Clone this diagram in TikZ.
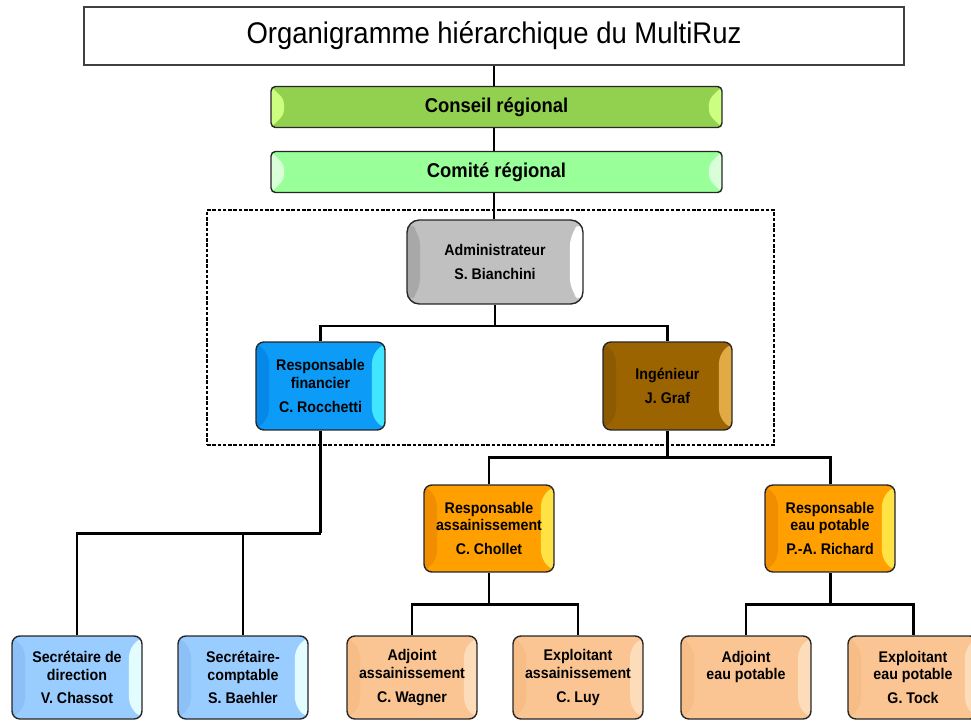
\documentclass[tikz,border=0pt]{standalone}
\usepackage{fontspec}
\setmainfont{Liberation Sans}
\newfontfamily\orgfont[FakeStretch=0.92]{Liberation Sans}
\usepackage{tikz}
\usetikzlibrary{positioning, calc}
\definecolor{conseilfill}{HTML}{92D050}
\definecolor{conseilhi}{HTML}{CCFF80}
\definecolor{comitefill}{HTML}{99FF99}
\definecolor{comitehi}{HTML}{D8FFD8}
\definecolor{adminfill}{HTML}{C0C0C0}
\definecolor{adminlo}{HTML}{A8A8A8}
\definecolor{finfill}{HTML}{0C9CF8}
\definecolor{finlo}{HTML}{0688E8}
\definecolor{finhi}{HTML}{40E6FF}
\definecolor{ingfill}{HTML}{9C6400}
\definecolor{inglo}{HTML}{8C5A00}
\definecolor{inghi}{HTML}{E2AA44}
\definecolor{orfill}{HTML}{FFA000}
\definecolor{orlo}{HTML}{F08E00}
\definecolor{orhi}{HTML}{FFE244}
\definecolor{secfill}{HTML}{99CCFF}
\definecolor{seclo}{HTML}{8DC0F6}
\definecolor{sechi}{HTML}{E2FCFF}
\definecolor{adjfill}{HTML}{FAC592}
\definecolor{adjlo}{HTML}{F6BD86}
\definecolor{adjhi}{HTML}{FDDCBA}

\begin{document}
\begin{tikzpicture}[
    % 1. work in pixels of the original chart
    x=0.02cm, y=-0.02cm,
    % 2. styles for boxes and links
    box/.style={rectangle, draw=black!85, line width=0.8pt, rounded corners=4.5pt,
        align=center, inner sep=0pt, text=black,
        font=\orgfont\bfseries\fontsize{8.8}{10}\selectfont},
    bevel/.style n args={3}{fill=#1, path picture={
        \fill[#2] (path picture bounding box.north west) -- (path picture bounding box.south west)
            -- ++(0.26cm,0.26cm) -- ($(path picture bounding box.north west)+(0.26cm,-0.26cm)$) -- cycle;
        \fill[#3] (path picture bounding box.north east) -- (path picture bounding box.south east)
            -- ++(-0.26cm,0.26cm) -- ($(path picture bounding box.north east)+(-0.26cm,-0.26cm)$) -- cycle;}},
    bar/.style={box, minimum width=9.02cm, minimum height=0.82cm, rounded corners=2.5pt,
        font=\orgfont\bfseries\fontsize{11.4}{13}\selectfont},
    chief/.style={box, minimum width=2.58cm, minimum height=1.76cm},
    staff/.style={box, minimum width=2.6cm, minimum height=1.66cm},
    frame/.style={draw, line width=1.3pt, dash pattern=on 2pt off 1pt},
    link/.style={line width=1.7pt}
]
    \useasboundingbox (0,0) rectangle (971,724);

    % --- TOP ---
    \node (title) [draw=black!75, line width=0.8pt, minimum width=16.4cm, minimum height=1.16cm,
        font=\orgfont\fontsize{17}{20}\selectfont] at (494,36) {Organigramme hiérarchique du MultiRuz};
    \node (conseil) [bar, bevel={conseilfill}{conseilhi}{conseilhi}] at (496.5,107) {Conseil régional};
    \node (comite) [bar, bevel={comitefill}{comitehi}{comitehi}] at (496.5,172) {Comité régional};

    % --- DIRECTION (dotted frame) ---
    \node (cadre) [frame, minimum width=11.34cm, minimum height=4.7cm] at (490.5,327.5) {};
    \node (admin) [box, bevel={adminfill}{adminlo}{white}, rounded corners=7pt,
        minimum width=3.52cm, minimum height=1.68cm] at (495,262) {Administrateur\\[3.5pt]S. Bianchini};
    \node (fin) [chief, bevel={finfill}{finlo}{finhi}] at (320.5,386) {Responsable\\financier\\[3.5pt]C. Rocchetti};
    \node (ing) [chief, bevel={ingfill}{inglo}{inghi}] at (667.5,386) {Ingénieur\\[3.5pt]J. Graf};

    % --- SERVICES ---
    \node (ass) [chief, bevel={orfill}{orlo}{orhi}, minimum width=2.6cm, minimum height=1.74cm] at (489,528.5) {Responsable\\assainissement\\[3.5pt]C. Chollet};
    \node (eau) [chief, bevel={orfill}{orlo}{orhi}, minimum width=2.6cm, minimum height=1.74cm] at (830,528.5) {Responsable\\eau potable\\[3.5pt]P.-A. Richard};

    % --- STAFF ROW ---
    \node (secdir) [staff, bevel={secfill}{seclo}{sechi}] at (77,677.5) {Secrétaire de\\direction\\[3.5pt]V. Chassot};
    \node (seccpt) [staff, bevel={secfill}{seclo}{sechi}] at (243,677.5) {Secrétaire-\\comptable\\[3.5pt]S. Baehler};
    \node (adjass) [staff, bevel={adjfill}{adjlo}{adjhi}] at (412,677.5) {Adjoint\\assainissement\\[3.5pt]C. Wagner};
    \node (expass) [staff, bevel={adjfill}{adjlo}{adjhi}] at (578,677.5) {Exploitant\\assainissement\\[3.5pt]C. Luy};
    \node (adjeau) [staff, bevel={adjfill}{adjlo}{adjhi}] at (746,677.5) {Adjoint\\eau potable\\[3.5pt]\phantom{G. Tock}};
    \node (expeau) [staff, bevel={adjfill}{adjlo}{adjhi}] at (913,677.5) {Exploitant\\eau potable\\[3.5pt]G. Tock};

    % --- LINKS ---
    \coordinate (bus1) at (495,326);
    \coordinate (bus2) at (667.5,457);
    \coordinate (bus3) at (320.5,533);
    \coordinate (bus4) at (489,604);
    \coordinate (bus5) at (830,604);

    \draw[link] (title.south) -- (title.south |- conseil.north);
    \draw[link] (conseil.south -| title.south) -- (title.south |- comite.north);
    \draw[link] (comite.south -| title.south) -- (title.south |- admin.north);

    \draw[link] (admin.south) -- (bus1);
    \draw[link] (fin.north) |- (bus1) -| (ing.north);

    \draw[link] (ing.south) -- (bus2);
    \draw[link] (ass.north) |- (bus2) -| (eau.north);

    \draw[link] (fin.south) -- (bus3);
    \draw[link] (secdir.north) |- (bus3);
    \draw[link] (seccpt.north) -- (seccpt.north |- bus3);

    \draw[link] (ass.south) -- (bus4);
    \draw[link] (adjass.north) |- (bus4) -| (expass.north);

    \draw[link] (eau.south) -- (bus5);
    \draw[link] (adjeau.north) |- (bus5) -| (expeau.north);

\end{tikzpicture}
\end{document}
